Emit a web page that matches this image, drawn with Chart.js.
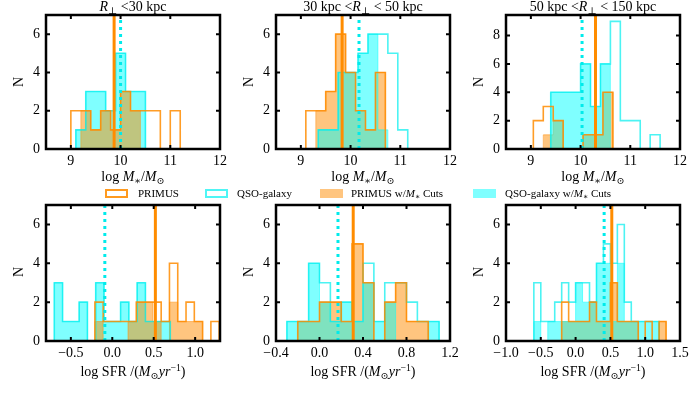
<!DOCTYPE html>
<html>
<head>
<meta charset="utf-8">
<script src="https://cdn.jsdelivr.net/npm/chart.js@4.4.1/dist/chart.umd.min.js"></script>
<style>
body { margin: 0; background: #fff; }
#wrap { position: relative; width: 698px; height: 399px; overflow: hidden; font-family: "Liberation Serif", "DejaVu Serif", serif; color: #000; }
#wrap canvas { position: absolute; left: 0; top: 0; }
.lbl { position: absolute; white-space: nowrap; transform: translate(-50%, -50%); font-size: 14px; line-height: 1; }
.lbl sub, .leg sub { font-size: 0.7em; vertical-align: -0.3em; line-height: 0; }
.lbl sup { font-size: 0.7em; vertical-align: 0.55em; line-height: 0; }
.ylab { transform: translate(-50%, -50%) rotate(-90deg); }
.leg { position: absolute; font-size: 11px; line-height: 1; white-space: nowrap; transform: translateY(-50%); }
.box { position: absolute; box-sizing: border-box; width: 23px; height: 9px; }
.box.po { border: 2px solid #ff9a1f; }
.box.qo { border: 2px solid #4ff5f5; }
.box.pf { background: rgba(255,140,0,0.5); }
.box.qf { background: rgba(0,255,255,0.5); }
</style>
</head>
<body>
<div id="wrap">
  <canvas id="c1" width="698" height="399"></canvas>
  <canvas id="c2" width="698" height="399"></canvas>
  <canvas id="c3" width="698" height="399"></canvas>
  <canvas id="c4" width="698" height="399"></canvas>
  <canvas id="c5" width="698" height="399"></canvas>
  <canvas id="c6" width="698" height="399"></canvas>

  <div class="lbl" style="left:133px;top:7px"><i>R</i><sub>⊥</sub> &lt;30 kpc</div>
  <div class="lbl" style="left:363px;top:7px">30 kpc &lt;<i>R</i><sub>⊥</sub> &lt; 50 kpc</div>
  <div class="lbl" style="left:593px;top:7px">50 kpc &lt;<i>R</i><sub>⊥</sub> &lt; 150 kpc</div>

  <div class="lbl ylab" style="left:19px;top:82px">N</div>
  <div class="lbl ylab" style="left:249px;top:82px">N</div>
  <div class="lbl ylab" style="left:479px;top:82px">N</div>
  <div class="lbl ylab" style="left:19px;top:272px">N</div>
  <div class="lbl ylab" style="left:249px;top:272px">N</div>
  <div class="lbl ylab" style="left:479px;top:272px">N</div>

  <div class="lbl" style="left:133px;top:177px">log <i>M</i><sub>∗</sub>/<i>M</i><sub>⊙</sub></div>
  <div class="lbl" style="left:363px;top:177px">log <i>M</i><sub>∗</sub>/<i>M</i><sub>⊙</sub></div>
  <div class="lbl" style="left:593px;top:177px">log <i>M</i><sub>∗</sub>/<i>M</i><sub>⊙</sub></div>
  <div class="lbl" style="left:133px;top:372px">log SFR /(<i>M</i><sub>⊙</sub><i>yr</i><sup>−1</sup>)</div>
  <div class="lbl" style="left:363px;top:372px">log SFR /(<i>M</i><sub>⊙</sub><i>yr</i><sup>−1</sup>)</div>
  <div class="lbl" style="left:593px;top:372px">log SFR /(<i>M</i><sub>⊙</sub><i>yr</i><sup>−1</sup>)</div>

  <div class="box po" style="left:105px;top:189px"></div>
  <div class="leg" style="left:138px;top:193px">PRIMUS</div>
  <div class="box qo" style="left:205px;top:189px"></div>
  <div class="leg" style="left:237px;top:193px">QSO-galaxy</div>
  <div class="box pf" style="left:320px;top:189px"></div>
  <div class="leg" style="left:351px;top:193px">PRIMUS w/<i>M</i><sub>∗</sub> Cuts</div>
  <div class="box qf" style="left:473px;top:189px"></div>
  <div class="leg" style="left:505px;top:193px">QSO-galaxy w/<i>M</i><sub>∗</sub> Cuts</div>
</div>

<script>
// tick values and labels
const massTicks = [9, 10, 11, 12];
const massLabels = ['9', '10', '11', '12'];
const sfrTicks1 = [-0.5, 0.0, 0.5, 1.0];
const sfrLabels1 = ['−0.5', '0.0', '0.5', '1.0'];
const sfrTicks2 = [-0.4, 0.0, 0.4, 0.8, 1.2];
const sfrLabels2 = ['−0.4', '0.0', '0.4', '0.8', '1.2'];
const sfrTicks3 = [-1.0, -0.5, 0.0, 0.5, 1.0, 1.5];
const sfrLabels3 = ['−1.0', '−0.5', '0.0', '0.5', '1.0', '1.5'];
const countTicks = [0, 2, 4, 6];
const countTicksWide = [0, 2, 4, 6, 8];

// stellar mass, R < 30 kpc
const m1PrimusEdges = [9.0, 9.2, 9.4, 9.6, 9.8, 10.0, 10.2, 10.4, 10.6, 10.8, 11.0, 11.2];
const m1PrimusCounts = [2, 2, 1, 2, 1, 3, 2, 2, 2, 0, 2];
const m1PrimusCutEdges = [9.2, 9.4, 9.6, 9.8, 10.0, 10.2, 10.4];
const m1PrimusCutCounts = [2, 1, 2, 1, 3, 2];
const m1QsoEdges = [9.1, 9.3, 9.5, 9.7, 9.9, 10.1, 10.3, 10.5];
const m1QsoCounts = [1, 3, 3, 2, 5, 3, 3];
const m1QsoCutEdges = [9.1, 9.3, 9.5, 9.7, 9.9, 10.1, 10.3, 10.5];
const m1QsoCutCounts = [1, 3, 3, 2, 5, 3, 3];
const m1Medians = [9.87, 10.0];   // PRIMUS, QSO-galaxy

// stellar mass, 30 < R < 50 kpc
const m2PrimusEdges = [9.1, 9.3, 9.5, 9.7, 9.9, 10.1, 10.3, 10.5, 10.7];
const m2PrimusCounts = [2, 2, 3, 6, 4, 2, 1, 4];
const m2PrimusCutEdges = [9.3, 9.5, 9.7, 9.9, 10.1, 10.3, 10.5, 10.7];
const m2PrimusCutCounts = [2, 3, 6, 4, 2, 1, 4];
const m2QsoEdges = [9.35, 9.55, 9.75, 9.95, 10.15, 10.35, 10.55, 10.75, 10.95, 11.15];
const m2QsoCounts = [1, 1, 4, 4, 5, 6, 6, 5, 1];
const m2QsoCutEdges = [9.35, 9.55, 9.75, 9.95, 10.15, 10.35, 10.55, 10.75];
const m2QsoCutCounts = [1, 1, 4, 4, 5, 6, 1];
const m2Medians = [9.83, 10.17];

// stellar mass, 50 < R < 150 kpc
const m3PrimusEdges = [9.05, 9.25, 9.45, 9.65, 9.85, 10.05, 10.25, 10.45, 10.65];
const m3PrimusCounts = [2, 3, 2, 0, 0, 1, 1, 4];
const m3PrimusCutEdges = [9.25, 9.45, 9.65, 9.85, 10.05, 10.25, 10.45, 10.65];
const m3PrimusCutCounts = [1, 2, 0, 0, 1, 1, 4];
const m3QsoEdges = [9.4, 9.6, 9.8, 10.0, 10.2, 10.4, 10.6, 10.8, 11.0, 11.2, 11.4, 11.6];
const m3QsoCounts = [4, 4, 4, 6, 3, 6, 9, 2, 2, 0, 1];
const m3QsoCutEdges = [9.4, 9.6, 9.8, 10.0, 10.2, 10.4, 10.6];
const m3QsoCutCounts = [4, 4, 4, 6, 3, 6];
const m3Medians = [10.3, 10.03];

// SFR, R < 30 kpc
const s1PrimusEdges = [-0.21, -0.11, -0.01, 0.09, 0.19, 0.29, 0.39, 0.49, 0.59, 0.69, 0.79, 0.89, 0.99, 1.09, 1.19, 1.29];
const s1PrimusCounts = [2, 1, 1, 1, 1, 2, 2, 2, 1, 4, 1, 2, 1, 0, 1];
const s1PrimusCutEdges = [-0.21, -0.11, -0.01, 0.09, 0.19, 0.29, 0.39, 0.49, 0.59, 0.69, 0.79, 0.89, 0.99, 1.09];
const s1PrimusCutCounts = [1, 0, 0, 0, 1, 2, 2, 1, 0, 2, 1, 1, 1];
const s1QsoEdges = [-0.7, -0.6, -0.5, -0.4, -0.3, -0.2, -0.1, 0.0, 0.1, 0.2, 0.3, 0.4, 0.5, 0.6, 0.7];
const s1QsoCounts = [3, 1, 1, 2, 0, 3, 1, 1, 2, 1, 3, 1, 1, 1];
const s1QsoCutEdges = [-0.7, -0.6, -0.5, -0.4, -0.3, -0.2, -0.1, 0.0, 0.1, 0.2, 0.3, 0.4, 0.5, 0.6, 0.7];
const s1QsoCutCounts = [3, 1, 1, 2, 0, 3, 1, 1, 2, 1, 3, 1, 1, 1];
const s1Medians = [0.52, -0.09];

// SFR, 30 < R < 50 kpc
const s2PrimusEdges = [-0.2, -0.1, 0.0, 0.1, 0.2, 0.3, 0.4, 0.5, 0.6, 0.7, 0.8, 0.9, 1.0];
const s2PrimusCounts = [1, 1, 2, 2, 1, 5, 3, 0, 2, 3, 1, 1];
const s2PrimusCutEdges = [-0.2, -0.1, 0.0, 0.1, 0.2, 0.3, 0.4, 0.5, 0.6, 0.7, 0.8, 0.9, 1.0];
const s2PrimusCutCounts = [1, 1, 2, 2, 1, 5, 3, 0, 2, 3, 1, 1];
const s2QsoEdges = [-0.3, -0.2, -0.1, 0.0, 0.1, 0.2, 0.3, 0.4, 0.5, 0.6, 0.7, 0.8, 0.9, 1.0, 1.1];
const s2QsoCounts = [1, 1, 4, 3, 1, 2, 1, 4, 1, 3, 3, 2, 1, 1];
const s2QsoCutEdges = [-0.3, -0.2, -0.1, 0.0, 0.1, 0.2, 0.3, 0.4, 0.5, 0.6, 0.7, 0.8, 0.9, 1.0, 1.1];
const s2QsoCutCounts = [1, 1, 4, 2, 1, 2, 1, 3, 1, 2, 0, 0, 0, 1];
const s2Medians = [0.31, 0.17];

// SFR, 50 < R < 150 kpc
const s3PrimusEdges = [-0.2, -0.1, 0.0, 0.1, 0.2, 0.3, 0.4, 0.5, 0.6, 0.7, 0.8, 0.9, 1.0, 1.1, 1.2, 1.3];
const s3PrimusCounts = [2, 1, 1, 1, 2, 1, 1, 3, 1, 1, 1, 0, 1, 0, 1];
const s3PrimusCutEdges = [-0.2, -0.1, 0.0, 0.1, 0.2, 0.3, 0.4, 0.5, 0.6, 0.7, 0.8, 0.9, 1.0, 1.1, 1.2, 1.3];
const s3PrimusCutCounts = [1, 1, 1, 1, 2, 1, 1, 3, 1, 1, 1, 0, 0, 0, 1];
const s3QsoEdges = [-0.6, -0.5, -0.4, -0.3, -0.2, -0.1, 0.0, 0.1, 0.2, 0.3, 0.4, 0.5, 0.6, 0.7, 0.8, 0.9, 1.0, 1.1, 1.2];
const s3QsoCounts = [3, 1, 1, 2, 3, 2, 3, 3, 2, 4, 5, 4, 6, 2, 1, 1, 1, 1];
const s3QsoCutEdges = [-0.6, -0.5, -0.4, -0.3, -0.2, -0.1, 0.0, 0.1, 0.2, 0.3, 0.4, 0.5, 0.6, 0.7, 0.8, 0.9, 1.0, 1.1, 1.2];
const s3QsoCutCounts = [1, 0, 1, 1, 1, 1, 3, 2, 2, 4, 4, 1, 4, 1, 1, 1, 1, 1];
const s3Medians = [0.52, 0.41];

const ORANGE_LINE = 'rgba(255,140,0,0.85)';
const ORANGE_FILL = 'rgba(255,140,0,0.5)';
const ORANGE_MED = 'rgb(255,140,0)';
const CYAN_LINE = 'rgba(0,238,238,0.7)';
const CYAN_FILL = 'rgba(0,255,255,0.5)';
const CYAN_MED = 'rgb(0,235,235)';
const FONT = { family: 'Liberation Serif', size: 14 };

// histogram outline: up at the first edge, flat over each bin, down at the last edge
function stepPoints(edges, counts) {
    const pts = [{ x: edges[0], y: 0 }];
    counts.forEach(function (c, i) { pts.push({ x: edges[i], y: c }); });
    pts.push({ x: edges[edges.length - 1], y: 0 });
    return pts;
}

function outline(edges, counts, color, order) {
    return { data: stepPoints(edges, counts), stepped: true, borderColor: color, borderWidth: 1.6,
             fill: false, pointRadius: 0, order: order };
}

function filled(edges, counts, color, order) {
    return { data: stepPoints(edges, counts), stepped: true, borderColor: color, borderWidth: 1,
             backgroundColor: color, fill: 'origin', pointRadius: 0, order: order };
}

function median(x, yMax, color, dash) {
    return { data: [{ x: x, y: 0 }, { x: x, y: yMax }], borderColor: color, borderWidth: 3,
             borderDash: dash, borderCapStyle: 'butt', fill: false, pointRadius: 0, order: 0 };
}

// black box with inward ticks, like the matplotlib axes
const frame = {
    id: 'frame',
    afterDraw(chart) {
        const ctx = chart.ctx, a = chart.chartArea, sx = chart.scales.x, sy = chart.scales.y;
        ctx.save();
        ctx.strokeStyle = '#000';
        ctx.lineWidth = 2;
        ctx.beginPath();
        sx.ticks.forEach(function (t) {
            const px = sx.getPixelForValue(t.value);
            ctx.moveTo(px, a.bottom); ctx.lineTo(px, a.bottom - 4);
            ctx.moveTo(px, a.top); ctx.lineTo(px, a.top + 4);
        });
        sy.ticks.forEach(function (t) {
            const py = sy.getPixelForValue(t.value);
            ctx.moveTo(a.left, py); ctx.lineTo(a.left + 4, py);
            ctx.moveTo(a.right, py); ctx.lineTo(a.right - 4, py);
        });
        ctx.stroke();
        ctx.lineWidth = 2.5;
        ctx.strokeRect(a.left, a.top, a.right - a.left, a.bottom - a.top);
        ctx.restore();
    }
};

function makePanel(id, area, xRange, xTicks, xLabels, yMax, yTicks, datasets) {
    new Chart(document.getElementById(id), {
        type: 'line',
        data: { datasets: datasets },
        options: {
            responsive: false,
            animation: false,
            devicePixelRatio: 1,
            events: [],
            layout: { padding: { left: area[0] - 26, top: area[1], right: 698 - area[2], bottom: 399 - area[3] - 22 } },
            plugins: { legend: { display: false }, tooltip: { enabled: false } },
            scales: {
                x: {
                    type: 'linear', min: xRange[0], max: xRange[1],
                    grid: { display: false, drawTicks: false }, border: { display: false },
                    afterFit: function (s) { s.height = 22; },
                    afterBuildTicks: function (s) { s.ticks = xTicks.map(function (v) { return { value: v }; }); },
                    ticks: { padding: 4, autoSkip: false, maxRotation: 0, color: '#000', font: FONT,
                             callback: function (v, i) { return xLabels[i]; } }
                },
                y: {
                    type: 'linear', min: 0, max: yMax,
                    grid: { display: false, drawTicks: false }, border: { display: false },
                    afterFit: function (s) { s.width = 26; },
                    afterBuildTicks: function (s) { s.ticks = yTicks.map(function (v) { return { value: v }; }); },
                    ticks: { padding: 6, autoSkip: false, color: '#000', font: FONT,
                             callback: function (v) { return String(v); } }
                }
            }
        },
        plugins: [frame]
    });
}

const row1 = [15, 149], row2 = [205, 341];
const colL = [46, 276, 506], colR = [220, 450, 680];

makePanel('c1', [colL[0], row1[0], colR[0], row1[1]], [8.5, 12], massTicks, massLabels, 7, countTicks, [
    median(m1Medians[0], 7, ORANGE_MED, []),
    median(m1Medians[1], 7, CYAN_MED, [3, 4]),
    outline(m1PrimusEdges, m1PrimusCounts, ORANGE_LINE, 1),
    outline(m1QsoEdges, m1QsoCounts, CYAN_LINE, 2),
    filled(m1PrimusCutEdges, m1PrimusCutCounts, ORANGE_FILL, 3),
    filled(m1QsoCutEdges, m1QsoCutCounts, CYAN_FILL, 4)
]);

makePanel('c2', [colL[1], row1[0], colR[1], row1[1]], [8.5, 12], massTicks, massLabels, 7, countTicks, [
    median(m2Medians[0], 7, ORANGE_MED, []),
    median(m2Medians[1], 7, CYAN_MED, [3, 4]),
    outline(m2PrimusEdges, m2PrimusCounts, ORANGE_LINE, 1),
    outline(m2QsoEdges, m2QsoCounts, CYAN_LINE, 2),
    filled(m2QsoCutEdges, m2QsoCutCounts, CYAN_FILL, 3),
    filled(m2PrimusCutEdges, m2PrimusCutCounts, ORANGE_FILL, 4)
]);

makePanel('c3', [colL[2], row1[0], colR[2], row1[1]], [8.5, 12], massTicks, massLabels, 9.45, countTicksWide, [
    median(m3Medians[0], 9.45, ORANGE_MED, []),
    median(m3Medians[1], 9.45, CYAN_MED, [3, 4]),
    outline(m3PrimusEdges, m3PrimusCounts, ORANGE_LINE, 1),
    outline(m3QsoEdges, m3QsoCounts, CYAN_LINE, 2),
    filled(m3QsoCutEdges, m3QsoCutCounts, CYAN_FILL, 3),
    filled(m3PrimusCutEdges, m3PrimusCutCounts, ORANGE_FILL, 4)
]);

makePanel('c4', [colL[0], row2[0], colR[0], row2[1]], [-0.8, 1.3], sfrTicks1, sfrLabels1, 7, countTicks, [
    median(s1Medians[0], 7, ORANGE_MED, []),
    median(s1Medians[1], 7, CYAN_MED, [3, 4]),
    outline(s1PrimusEdges, s1PrimusCounts, ORANGE_LINE, 1),
    outline(s1QsoEdges, s1QsoCounts, CYAN_LINE, 2),
    filled(s1PrimusCutEdges, s1PrimusCutCounts, ORANGE_FILL, 3),
    filled(s1QsoCutEdges, s1QsoCutCounts, CYAN_FILL, 4)
]);

makePanel('c5', [colL[1], row2[0], colR[1], row2[1]], [-0.4, 1.2], sfrTicks2, sfrLabels2, 7, countTicks, [
    median(s2Medians[0], 7, ORANGE_MED, []),
    median(s2Medians[1], 7, CYAN_MED, [3, 4]),
    outline(s2PrimusEdges, s2PrimusCounts, ORANGE_LINE, 1),
    outline(s2QsoEdges, s2QsoCounts, CYAN_LINE, 2),
    filled(s2QsoCutEdges, s2QsoCutCounts, CYAN_FILL, 3),
    filled(s2PrimusCutEdges, s2PrimusCutCounts, ORANGE_FILL, 4)
]);

makePanel('c6', [colL[2], row2[0], colR[2], row2[1]], [-1.0, 1.5], sfrTicks3, sfrLabels3, 7, countTicks, [
    median(s3Medians[0], 7, ORANGE_MED, []),
    median(s3Medians[1], 7, CYAN_MED, [3, 4]),
    outline(s3PrimusEdges, s3PrimusCounts, ORANGE_LINE, 1),
    outline(s3QsoEdges, s3QsoCounts, CYAN_LINE, 2),
    filled(s3QsoCutEdges, s3QsoCutCounts, CYAN_FILL, 3),
    filled(s3PrimusCutEdges, s3PrimusCutCounts, ORANGE_FILL, 4)
]);
</script>
</body>
</html>
